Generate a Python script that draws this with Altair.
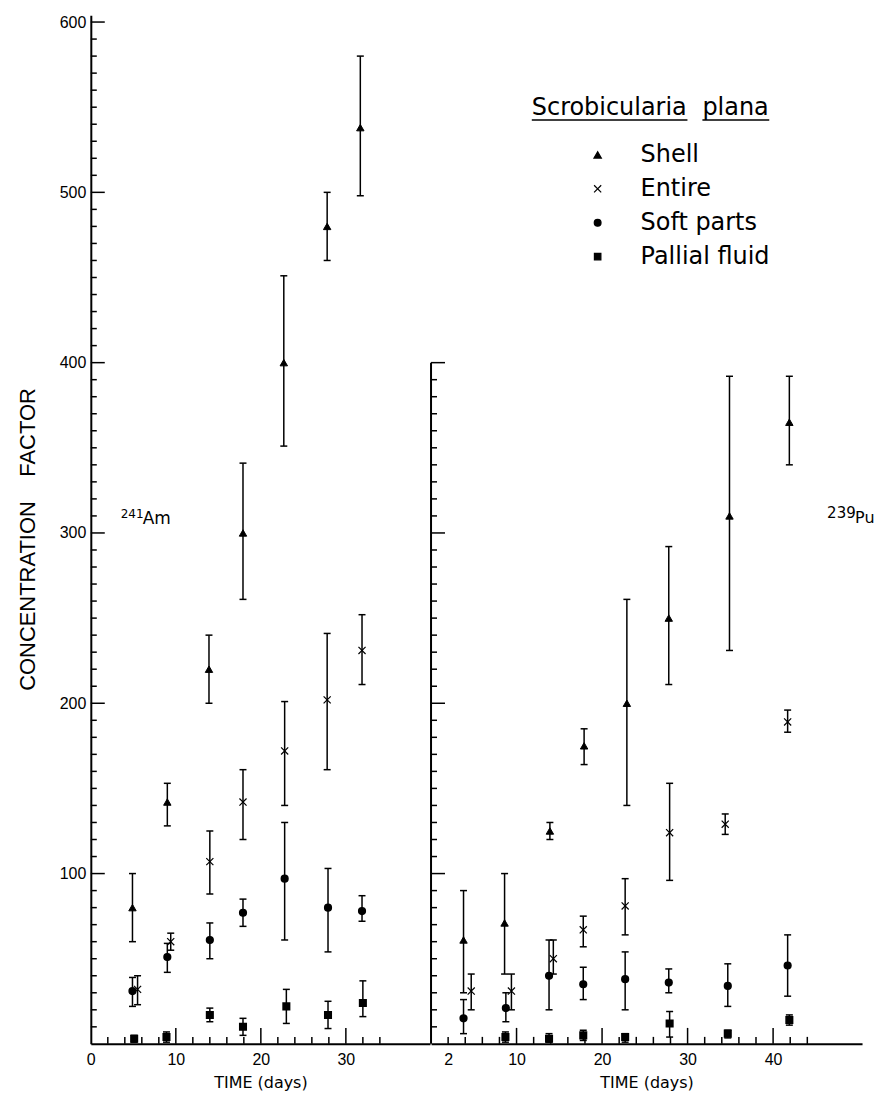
import altair as alt
import pandas as pd

SERIES = ["Shell", "Entire", "Soft parts", "Pallial fluid"]
SHAPES = ["triangle-up", "M-1,-1L1,1M-1,1L1,-1", "circle", "square"]
SIZES = [55, 42, 10, 34]
STROKES = [1.0, 1.6, 0.6, 1.0]
LEGEND_SIZES = [55, 40, 36, 34]

# ---------------- 241Am (left panel) ----------------
am_shell_day = [4.9, 9.0, 13.9, 17.9, 22.7, 27.8, 31.7]
am_shell_val = [80, 142, 220, 300, 400, 480, 538]
am_shell_lo = [60, 128, 200, 261, 351, 460, 498]
am_shell_hi = [100, 153, 240, 341, 451, 500, 580]

am_entire_day = [5.5, 9.4, 14.0, 17.9, 22.8, 27.8, 31.9]
am_entire_val = [32, 60, 107, 142, 172, 202, 231]
am_entire_lo = [23, 55, 88, 120, 140, 161, 211]
am_entire_hi = [40, 65, 125, 161, 201, 241, 252]

am_soft_day = [4.9, 9.0, 14.0, 17.9, 22.8, 27.9, 31.9]
am_soft_val = [31, 51, 61, 77, 97, 80, 78]
am_soft_lo = [22, 42, 50, 69, 61, 54, 72]
am_soft_hi = [39, 59, 71, 85, 130, 103, 87]

am_pall_day = [5.1, 8.9, 14.0, 17.9, 23.0, 27.9, 32.0]
am_pall_val = [3, 4, 17, 10, 22, 17, 24]
am_pall_lo = [1, 1, 13, 5, 12, 9, 16]
am_pall_hi = [5, 7, 21, 15, 32, 25, 37]

# ---------------- 239Pu (right panel) ----------------
pu_shell_day = [3.8, 8.6, 13.9, 17.9, 22.9, 27.8, 34.9, 41.9]
pu_shell_val = [61, 71, 125, 175, 200, 250, 310, 365]
pu_shell_lo = [30, 41, 120, 164, 140, 211, 231, 340]
pu_shell_hi = [90, 100, 130, 185, 261, 292, 392, 392]

pu_entire_day = [4.7, 9.4, 14.3, 17.8, 22.7, 27.9, 34.4, 41.7]
pu_entire_val = [31, 31, 50, 67, 81, 124, 129, 189]
pu_entire_lo = [20, 20, 41, 57, 64, 96, 123, 183]
pu_entire_hi = [41, 41, 61, 75, 97, 153, 135, 196]

pu_soft_day = [3.8, 8.75, 13.8, 17.8, 22.7, 27.8, 34.7, 41.7]
pu_soft_val = [15, 21, 40, 35, 38, 36, 34, 46]
pu_soft_lo = [6, 13, 20, 26, 20, 30, 22, 28]
pu_soft_hi = [26, 30, 61, 45, 54, 44, 47, 64]

pu_pall_day = [8.7, 13.8, 17.8, 22.7, 27.9, 34.7, 41.9]
pu_pall_val = [4, 3, 5, 4, 12, 6, 14]
pu_pall_lo = [1, 1, 2, 1, 4, 3.5, 11]
pu_pall_hi = [7, 6, 8, 6, 19, 8, 17]

# axis ticks and labels
y_labels = [100, 200, 300, 400, 500, 600]
am_y_major = [100, 200, 300, 400, 500, 600]
am_y_minor = [v for v in range(10, 600, 10) if v % 100]
pu_y_major = [100, 200, 300, 400]
pu_y_minor = [v for v in range(10, 400, 10) if v % 100]
am_x_labels = [0, 10, 20, 30]
am_x_major = [10, 20, 30]
am_x_minor = [2, 4, 6, 8, 12, 14, 16, 18, 22, 24, 26, 28, 32, 34]
pu_x_labels = [2, 10, 20, 30, 40]
pu_x_major = [10, 20, 30, 40]
pu_x_minor = [2, 4, 6, 8, 12, 14, 16, 18, 22, 24, 26, 28, 32, 34, 36, 38, 42, 44]
pu_axis_extent = [0, 400]

am_label = ["241", "Am"]
pu_label = ["239", "Pu"]
legend_title = ["Scrobicularia", "plana"]
y_title = "CONCENTRATION\u00a0\u00a0\u00a0 FACTOR"
x_title = "TIME (days)"


def build(groups):
    rows = []
    for name, (d, v, lo, hi) in zip(SERIES, groups):
        for i in range(len(d)):
            rows.append(dict(series=name, day=d[i], value=v[i], low=lo[i], high=hi[i]))
    return pd.DataFrame(rows)


df_am = build([
    (am_shell_day, am_shell_val, am_shell_lo, am_shell_hi),
    (am_entire_day, am_entire_val, am_entire_lo, am_entire_hi),
    (am_soft_day, am_soft_val, am_soft_lo, am_soft_hi),
    (am_pall_day, am_pall_val, am_pall_lo, am_pall_hi),
])
df_pu = build([
    (pu_shell_day, pu_shell_val, pu_shell_lo, pu_shell_hi),
    (pu_entire_day, pu_entire_val, pu_entire_lo, pu_entire_hi),
    (pu_soft_day, pu_soft_val, pu_soft_lo, pu_soft_hi),
    (pu_pall_day, pu_pall_val, pu_pall_lo, pu_pall_hi),
])

H = 1031
YDOM = [0, 604]
yscale = alt.Scale(domain=YDOM, nice=False, zero=False)
shape_scale = alt.Scale(domain=SERIES, range=SHAPES)
size_scale = alt.Scale(domain=SERIES, range=SIZES)
stroke_scale = alt.Scale(domain=SERIES, range=STROKES)

LABEL_FONT = "Liberation Sans"


def panel(df, xdom, width, xlabels, xmaj, xmin, ymaj, ymin, left):
    xscale = alt.Scale(domain=xdom, nice=False, zero=False)
    xaxis = alt.Axis(values=xlabels, ticks=False, grid=False, domain=True,
                     domainColor="black", domainWidth=2, labelFlush=False,
                     labelFont=LABEL_FONT, labelFontSize=16, labelColor="black",
                     labelPadding=8, title=x_title, titleFont="DejaVu Sans",
                     titleFontSize=16, titleFontWeight="normal", titleColor="black",
                     titlePadding=7)
    if left:
        yaxis = alt.Axis(values=y_labels, ticks=False, grid=False, domain=True,
                         domainColor="black", domainWidth=2,
                         labelFont=LABEL_FONT, labelFontSize=16, labelColor="black",
                         labelPadding=5, title=y_title, titleFont=LABEL_FONT,
                         titleFontSize=22, titleFontWeight="normal", titleColor="black",
                         titlePadding=20, titleY=525)
    else:
        yaxis = None

    def X(f):
        return alt.X(f, type="quantitative", scale=xscale, axis=xaxis)

    def Y(f):
        return alt.Y(f, type="quantitative", scale=yscale, axis=yaxis)

    base = alt.Chart(df)
    bars = base.mark_rule(color="black", strokeWidth=1.5).encode(
        x=X("day"), y=Y("low"), y2="high")
    cap_lo = base.mark_point(shape="M-1,0L1,0", size=49, filled=False,
                             stroke="black", strokeWidth=1.5, opacity=1).encode(
        x=X("day"), y=Y("low"))
    cap_hi = base.mark_point(shape="M-1,0L1,0", size=49, filled=False,
                             stroke="black", strokeWidth=1.5, opacity=1).encode(
        x=X("day"), y=Y("high"))
    marks = base.mark_point(filled=True, color="black", stroke="black", opacity=1).encode(
        x=X("day"), y=Y("value"),
        shape=alt.Shape("series:N", scale=shape_scale, legend=None),
        size=alt.Size("series:N", scale=size_scale, legend=None),
        strokeWidth=alt.StrokeWidth("series:N", scale=stroke_scale, legend=None))

    ytm = alt.Chart(pd.DataFrame({"v": ymaj})).mark_rule(color="black", strokeWidth=1.5).encode(
        y=Y("v"), x=alt.value(0), x2=alt.value(14))
    ytn = alt.Chart(pd.DataFrame({"v": ymin})).mark_rule(color="black", strokeWidth=1.5).encode(
        y=Y("v"), x=alt.value(0), x2=alt.value(6))
    xtm = alt.Chart(pd.DataFrame({"d": xmaj})).mark_rule(color="black", strokeWidth=1.5).encode(
        x=X("d"), y=alt.value(H), y2=alt.value(H - 16))
    xtn = alt.Chart(pd.DataFrame({"d": xmin})).mark_rule(color="black", strokeWidth=1.5).encode(
        x=X("d"), y=alt.value(H), y2=alt.value(H - 7))

    layers = [ytm, ytn, xtm, xtn, bars, cap_lo, cap_hi, marks]
    if not left:
        ext = pd.DataFrame({"lo": [pu_axis_extent[0]], "hi": [pu_axis_extent[1]]})
        yline = alt.Chart(ext).mark_rule(color="black", strokeWidth=2).encode(
            y=Y("lo"), y2="hi", x=alt.value(0))
        layers.insert(0, yline)
    return alt.layer(*layers)


one = pd.DataFrame({"k": [0]})


def txt(text, x, y, size, font="DejaVu Sans"):
    return alt.Chart(one).mark_text(text=text, align="left", baseline="alphabetic",
                                    font=font, fontSize=size, color="black").encode(
        x=alt.value(x), y=alt.value(y))


left_inner = panel(df_am, [0, 39.9], 340, am_x_labels, am_x_major, am_x_minor,
                   am_y_major, am_y_minor, True)
right_inner = panel(df_pu, [0, 50.4], 432, pu_x_labels, pu_x_major, pu_x_minor,
                    pu_y_major, pu_y_minor, False)

left = alt.layer(left_inner,
                 txt(am_label[0], 30, 504, 12),
                 txt(am_label[1], 52, 510, 17)).properties(width=340, height=H)

# key inside right panel
leg_df = pd.DataFrame({"series": SERIES})
leg_y = alt.Y("series:N", scale=alt.Scale(domain=SERIES, range=[140, 242], type="point", padding=0),
              axis=None)
leg_pts = alt.Chart(leg_df).mark_point(filled=True, color="black", stroke="black",
                                       strokeWidth=1.2, opacity=1).encode(
    x=alt.value(167), y=leg_y,
    shape=alt.Shape("series:N", scale=shape_scale, legend=None),
    size=alt.Size("series:N", scale=alt.Scale(domain=SERIES, range=LEGEND_SIZES), legend=None))
leg_txt = alt.Chart(leg_df).mark_text(align="left", baseline="middle", font="DejaVu Sans",
                                      fontSize=24, color="black").encode(
    x=alt.value(210), y=leg_y, text="series:N")
leg = alt.layer(leg_pts, leg_txt)

underline = alt.Chart(one).mark_rule(color="black", strokeWidth=1.5)
right = alt.layer(right_inner,
                  leg,
                  txt(pu_label[0], 397, 504, 15),
                  txt(pu_label[1], 425, 509, 16),
                  txt(legend_title[0], 101, 100, 24),
                  txt(legend_title[1], 272, 100, 24),
                  underline.encode(x=alt.value(101), x2=alt.value(257), y=alt.value(105)),
                  underline.encode(x=alt.value(272), x2=alt.value(339), y=alt.value(105)),
                  ).resolve_scale(y="independent").properties(width=432, height=H)

chart = alt.hconcat(left, right, spacing=0).resolve_scale(
    shape="independent", size="independent", strokeWidth="independent").properties(
    padding={"left": 8, "top": 4, "right": 5, "bottom": 2},
    background="white",
).configure_view(stroke=None)

chart.save("out.html", embed_options={"renderer": "svg", "actions": False})
